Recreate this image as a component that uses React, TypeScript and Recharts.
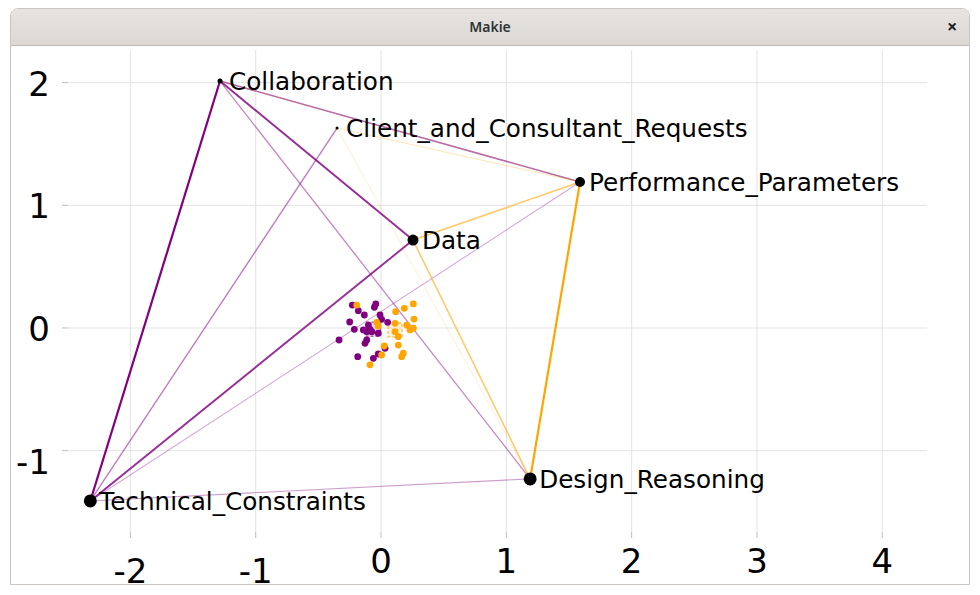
import React from 'react';
import { ScatterChart, Scatter, XAxis, YAxis, CartesianGrid } from 'recharts';

// graph nodes (layout coordinates)
const nodeNames = [
  'Collaboration',
  'Client_and_Consultant_Requests',
  'Performance_Parameters',
  'Data',
  'Design_Reasoning',
  'Technical_Constraints',
];
const nodeX = [-1.285, -0.351, 1.588, 0.255, 1.19, -2.32];
const nodeY = [2.013, 1.63, 1.19, 0.717, -1.23, -1.41];

// edges: index into nodeNames, weight 0..1, group
const edgeFrom = [0, 0, 5, 0, 0, 5, 5, 5, 2, 3, 3, 1, 1, 0];
const edgeTo = [5, 3, 3, 2, 4, 1, 4, 2, 4, 2, 4, 2, 4, 2];
const edgeWeight = [1.0, 0.8, 0.8, 0.55, 0.4, 0.45, 0.3, 0.25, 1.0, 0.55, 0.55, 0.2, 0.1, 0.06];
const edgeGroup = ['p', 'p', 'p', 'p', 'p', 'p', 'p', 'p', 'o', 'o', 'o', 'o', 'o', 'o'];

// small point cloud near the origin
const purpleX = [-0.229, -0.181, -0.042, -0.053, -0.133, -0.008, 0.005, -0.25, -0.213, -0.101, -0.141, -0.088, -0.114, -0.074, 0.053, -0.022, -0.335, -0.114, -0.128, 0.032, -0.022, -0.061, -0.186];
const purpleY = [0.187, 0.141, 0.196, 0.169, 0.106, 0.106, 0.071, 0.049, -0.011, 0.024, -0.016, -0.011, -0.03, -0.03, 0.046, -0.043, -0.098, -0.098, -0.125, -0.166, -0.212, -0.247, -0.234];
const orangeX = [-0.194, -0.034, -0.022, 0.117, 0.186, 0.258, 0.263, 0.112, 0.205, 0.231, 0.258, 0.112, 0.138, 0.026, 0.005, 0.178, 0.165, -0.088, 0.138];
const orangeY = [0.187, 0.046, 0.016, 0.133, 0.16, 0.196, 0.073, 0.038, 0.024, -0.016, -0.002, -0.03, -0.139, -0.147, -0.22, -0.206, -0.234, -0.3, -0.071];
const centroidX = [-0.06, 0.112];
const centroidY = [-0.01, -0.016];

const xTicks = [-2, -1, 0, 1, 2, 3, 4];
const yTicks = [-1, 0, 1, 2];

const PURPLE = '#800080';
const ORANGE = '#ffa500';
const NODE_R: Record<string, number> = {
  Collaboration: 2.5,
  Client_and_Consultant_Requests: 1.5,
  Performance_Parameters: 5,
  Data: 5.5,
  Design_Reasoning: 6.5,
  Technical_Constraints: 6.5,
};
const FONT = '"DejaVu Sans", sans-serif';

const nodes = nodeNames.map((name, i) => ({ name, x: nodeX[i], y: nodeY[i] }));
const edges = edgeFrom.map((f, i) => ({
  pts: [nodes[f], nodes[edgeTo[i]]],
  w: edgeWeight[i],
  color: edgeGroup[i] === 'p' ? PURPLE : ORANGE,
}));
const purplePts = purpleX.map((x, i) => ({ x, y: purpleY[i] }));
const orangePts = orangeX.map((x, i) => ({ x, y: orangeY[i] }));
const centroids = centroidX.map((x, i) => ({ x, y: centroidY[i], c: i === 0 ? PURPLE : ORANGE }));

const XTick = (props: any) => {
  const { x, y, payload } = props;
  const neg = payload.value < 0;
  return (
    <text x={x} y={y} dy={neg ? 43 : 33} textAnchor="middle" fontSize={34} fontFamily={FONT} fill="#000">
      {payload.value}
    </text>
  );
};

const YTick = (props: any) => {
  const { x, y, payload } = props;
  const neg = payload.value < 0;
  return (
    <text x={x - 10} y={y} dy={neg ? 23 : 13} textAnchor="end" fontSize={34} fontFamily={FONT} fill="#000">
      {payload.value}
    </text>
  );
};

const NodeShape = (props: any) => {
  const { cx, cy, payload } = props;
  const r = NODE_R[payload.name] ?? 4;
  return (
    <g>
      <circle cx={cx} cy={cy} r={r} fill="#000" />
      <text x={cx + 9} y={cy + 9} fontSize={24.7} fontFamily={FONT} fill="#000">
        {payload.name}
      </text>
    </g>
  );
};

const Dot = (color: string) => (props: any) => (
  <circle cx={props.cx} cy={props.cy} r={3.4} fill={color} />
);

const CentroidShape = (props: any) => {
  const { cx, cy, payload } = props;
  return (
    <rect
      x={cx - 7}
      y={cy - 7}
      width={14}
      height={14}
      fill={payload.c}
      fillOpacity={0.15}
      stroke={payload.c}
      strokeOpacity={0.6}
      strokeDasharray="3 2"
      strokeWidth={1.5}
    />
  );
};

export default function App() {
  return (
    <div style={{ position: 'fixed', left: 0, top: 0, width: 980, height: 595, background: '#fff' }}>
      <div
        style={{
          position: 'absolute',
          left: 10,
          top: 8,
          width: 960,
          height: 577,
          boxSizing: 'border-box',
          border: '1px solid #c9c6c2',
          borderRadius: '8px 8px 0 0',
          overflow: 'hidden',
          background: '#fff',
        }}
      >
        <div
          style={{
            height: 36,
            background: 'linear-gradient(#e6e3e0, #dcd9d5)',
            borderBottom: '1px solid #bdb8b3',
            position: 'relative',
            fontFamily: '"Noto Sans", sans-serif',
            color: '#2e3436',
          }}
        >
          <div style={{ position: 'absolute', left: 0, right: 0, top: 0, lineHeight: '36px', textAlign: 'center', fontSize: 14, fontWeight: 600 }}>
            Makie
          </div>
          <div style={{ position: 'absolute', left: 936, top: -1, lineHeight: '36px', fontSize: 18, fontWeight: 700, color: '#222' }}>
            ×
          </div>
        </div>
      </div>
      <div style={{ position: 'absolute', left: 0, top: 0 }}>
        <ScatterChart width={980} height={595} margin={{ top: 50, right: 53, left: 0, bottom: 0 }}>
          <CartesianGrid stroke="#e3e3e3" strokeWidth={1} horizontalValues={yTicks} verticalValues={xTicks} />
          <XAxis
            type="number"
            dataKey="x"
            domain={[-2.498, 4.357]}
            ticks={xTicks}
            allowDataOverflow
            height={63}
            axisLine={false}
            tickSize={6}
            tickLine={{ stroke: '#bdbdbd' }}
            tick={<XTick />}
          />
          <YAxis
            type="number"
            dataKey="y"
            domain={[-1.663, 2.266]}
            ticks={yTicks}
            allowDataOverflow
            width={68}
            axisLine={false}
            tickSize={6}
            tickLine={{ stroke: '#bdbdbd' }}
            tick={<YTick />}
          />
          {edges.map((e, i) => (
            <Scatter
              key={`edge-${i}`}
              data={e.pts}
              fill={e.color}
              line={{ stroke: e.color, strokeWidth: 0.7 + e.w * 1.5, strokeOpacity: 0.12 + e.w * 0.88 }}
              shape={() => <g />}
              isAnimationActive={false}
            />
          ))}
          <Scatter data={centroids} shape={<CentroidShape />} isAnimationActive={false} />
          <Scatter data={purplePts} shape={Dot(PURPLE)} isAnimationActive={false} />
          <Scatter data={orangePts} shape={Dot(ORANGE)} isAnimationActive={false} />
          <Scatter data={nodes} shape={<NodeShape />} isAnimationActive={false} />
        </ScatterChart>
      </div>
    </div>
  );
}
